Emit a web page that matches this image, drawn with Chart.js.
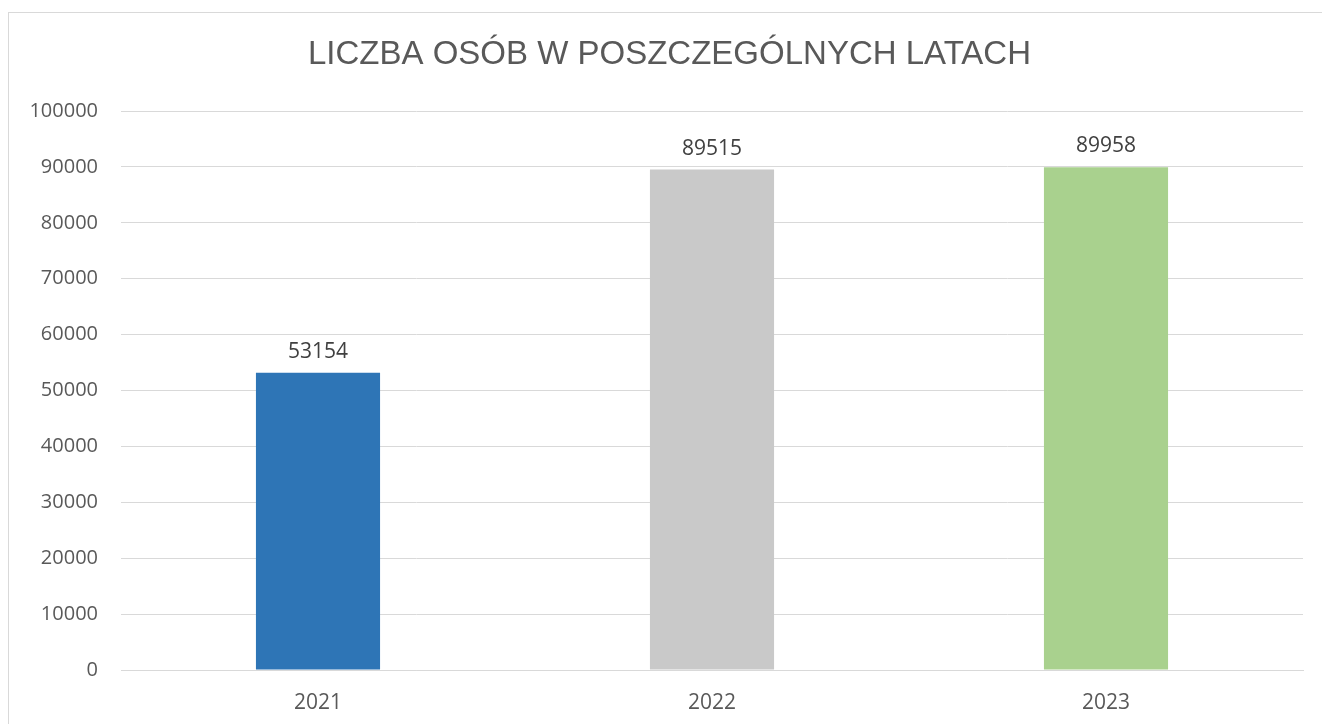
<!DOCTYPE html>
<html>
<head>
<meta charset="utf-8">
<script src="https://cdn.jsdelivr.net/npm/chart.js@4"></script>
<style>
  html, body { margin: 0; padding: 0; background: #fff; overflow: hidden; }
  #wrap { position: absolute; left: 0; top: 0; width: 1322px; height: 724px; }
  #frame { position: absolute; left: 8px; top: 12px; width: 1330px; height: 740px; border: 1px solid #d9d9d9; box-sizing: border-box; pointer-events: none; }
</style>
</head>
<body>
<div id="wrap"><canvas id="c" width="1322" height="724"></canvas></div>
<div id="frame"></div>
<script>
const categories = ["2021", "2022", "2023"];
const values = [53154, 89515, 89958];
const barColors = ["#2E75B6", "#C9C9C9", "#A9D18E"];
const chartTitle = "LICZBA OSÓB W POSZCZEGÓLNYCH LATACH";
const yMin = 0, yMax = 100000, yStep = 10000;

const labelPlugin = {
  id: 'barLabels',
  afterDatasetsDraw(chart) {
    const ctx = chart.ctx;
    const meta = chart.getDatasetMeta(0);
    ctx.save();
    ctx.font = '21px "Open Sans", sans-serif';
    ctx.fillStyle = '#404040';
    ctx.textAlign = 'center';
    ctx.textBaseline = 'middle';
    meta.data.forEach((bar, i) => {
      ctx.fillText(String(values[i]), bar.x, bar.y - 21);
    });
    ctx.restore();
  }
};

const titlePlugin = {
  id: 'customTitle',
  afterDraw(chart) {
    const ctx = chart.ctx;
    ctx.save();
    ctx.font = '33px "Liberation Sans", Arial, sans-serif';
    ctx.fillStyle = '#595959';
    ctx.textAlign = 'center';
    ctx.textBaseline = 'middle';
    ctx.fillText(chartTitle, 669.5, 55);
    ctx.restore();
  }
};

new Chart(document.getElementById('c'), {
  type: 'bar',
  data: {
    labels: categories,
    datasets: [{
      data: values,
      backgroundColor: barColors,
      borderWidth: 0,
      barPercentage: 0.315,
      categoryPercentage: 1
    }]
  },
  options: {
    responsive: false,
    animation: false,
    devicePixelRatio: 1,
    layout: { padding: { left: 0, right: 19, top: 111, bottom: 0 } },
    plugins: {
      legend: { display: false },
      tooltip: { enabled: false },
      title: { display: false }
    },
    scales: {
      x: {
        grid: { display: false },
        border: { display: true, color: '#d9d9d9', width: 1 },
        ticks: { color: '#595959', font: { family: '"Open Sans", sans-serif', size: 21 }, padding: 12 },
        afterFit(s) { s.height = 54; }
      },
      y: {
        min: yMin, max: yMax,
        grid: { color: '#d9d9d9', lineWidth: 1, drawTicks: false },
        border: { display: false },
        ticks: {
          stepSize: yStep, color: '#595959',
          font: { family: '"Open Sans", sans-serif', size: 20 }, padding: 23,
          callback: (v) => String(v)
        },
        afterFit(s) { s.width = 121; }
      }
    }
  },
  plugins: [labelPlugin, titlePlugin]
});
</script>
</body>
</html>
